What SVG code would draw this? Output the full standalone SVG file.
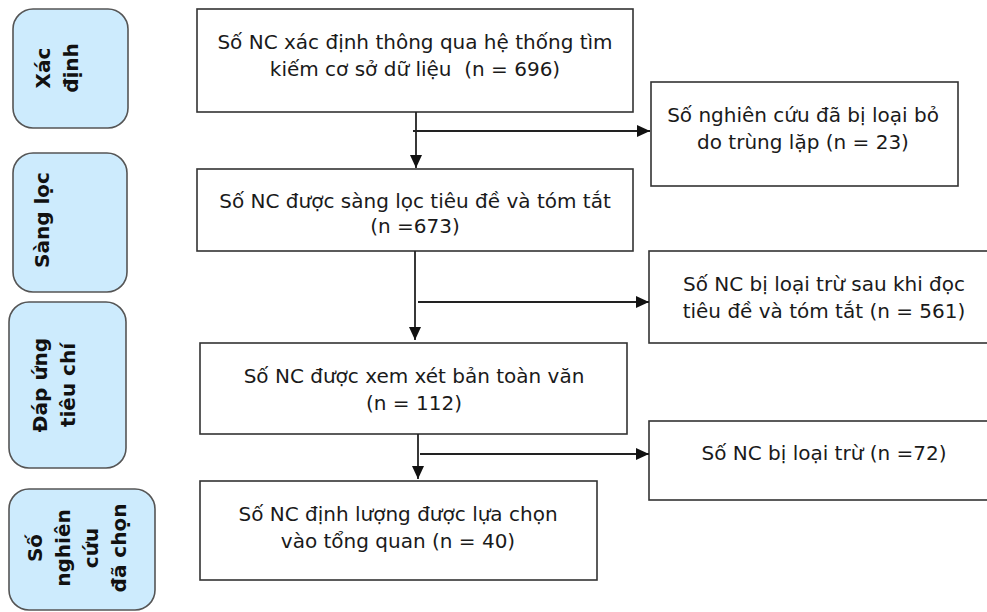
<svg xmlns="http://www.w3.org/2000/svg" width="987" height="612" viewBox="0 0 987 612">
<style>
.stage{fill:#cdebfd;stroke:#555;stroke-width:1.6}
.box{fill:#fff;stroke:#333;stroke-width:1.6}
.lbl{font-family:"DejaVu Sans",sans-serif;font-weight:bold;font-size:20px;fill:#111;text-anchor:middle}
.txt{font-family:"DejaVu Sans",sans-serif;font-size:20px;fill:#1a1a1a;text-anchor:middle;white-space:pre}
.con{fill:none;stroke:#222;stroke-width:1.8}
</style>
<defs>
<marker id="ah" markerUnits="userSpaceOnUse" markerWidth="14" markerHeight="13" refX="13" refY="6" orient="auto">
<path d="M0,0 L13,6 L0,12 z" fill="#111"/>
</marker>
<clipPath id="clipB"><rect x="197" y="169" width="436" height="68"/></clipPath>
</defs>
<rect width="987" height="612" fill="#fff"/>

<g id="stage-xacdinh">
<rect class="stage" x="13" y="9" width="115" height="119" rx="20"/>
<text class="lbl" transform="translate(50,68) rotate(-90)"><tspan x="0" y="0">Xác</tspan><tspan x="0" dy="27.5">định</tspan></text>
</g>
<g id="stage-sangloc">
<rect class="stage" x="13" y="153" width="114" height="139" rx="20"/>
<text class="lbl" transform="translate(49,220) rotate(-90)">Sàng lọc</text>
</g>
<g id="stage-dapung">
<rect class="stage" x="9" y="302" width="117" height="166" rx="20"/>
<text class="lbl" transform="translate(47,385) rotate(-90)"><tspan x="0" y="0">Đáp ứng</tspan><tspan x="0" dy="27.5">tiêu chí</tspan></text>
</g>
<g id="stage-dachon">
<rect class="stage" x="9" y="489" width="146" height="121" rx="20"/>
<text class="lbl" transform="translate(42,548) rotate(-90)"><tspan x="0" y="0">Số</tspan><tspan x="0" dy="28">nghiên</tspan><tspan x="0" dy="28">cứu</tspan><tspan x="0" dy="28">đã chọn</tspan></text>
</g>

<g id="node-identified">
<rect class="box" x="197" y="9" width="436" height="103"/>
<text class="txt"><tspan x="415" y="49">Số NC xác định thông qua hệ thống tìm</tspan><tspan x="415" y="76">kiếm cơ sở dữ liệu  (n = 696)</tspan></text>
</g>
<g id="node-duplicates">
<rect class="box" x="651" y="82" width="307" height="104"/>
<text class="txt"><tspan x="803" y="122">Số nghiên cứu đã bị loại bỏ</tspan><tspan x="803" y="149">do trùng lặp (n = 23)</tspan></text>
</g>
<g id="node-screened">
<rect class="box" x="197" y="169" width="436" height="82"/>
<text class="txt" clip-path="url(#clipB)"><tspan x="415" y="208">Số NC được sàng lọc tiêu đề và tóm tắt</tspan><tspan x="415" y="233">(n =673)</tspan></text>
</g>
<g id="node-excluded-abstract">
<rect class="box" x="649" y="251" width="345" height="92"/>
<text class="txt"><tspan x="824" y="291">Số NC bị loại trừ sau khi đọc</tspan><tspan x="824" y="318">tiêu đề và tóm tắt (n = 561)</tspan></text>
</g>
<g id="node-fulltext">
<rect class="box" x="200" y="343" width="427" height="91"/>
<text class="txt"><tspan x="414" y="383">Số NC được xem xét bản toàn văn</tspan><tspan x="414" y="410">(n = 112)</tspan></text>
</g>
<g id="node-excluded">
<rect class="box" x="649" y="421" width="345" height="79"/>
<text class="txt" x="824" y="460">Số NC bị loại trừ (n =72)</text>
</g>
<g id="node-included">
<rect class="box" x="200" y="481" width="397" height="99"/>
<text class="txt"><tspan x="398" y="521">Số NC định lượng được lựa chọn</tspan><tspan x="398" y="548">vào tổng quan (n = 40)</tspan></text>
</g>

<g id="connectors">
<path class="con" d="M416,112 V168" marker-end="url(#ah)"/>
<path class="con" d="M413,131 H650" marker-end="url(#ah)"/>
<path class="con" d="M415,251 V340" marker-end="url(#ah)"/>
<path class="con" d="M418,302 H649" marker-end="url(#ah)"/>
<path class="con" d="M418,434 V479" marker-end="url(#ah)"/>
<path class="con" d="M420,454 H649" marker-end="url(#ah)"/>
</g>
</svg>
